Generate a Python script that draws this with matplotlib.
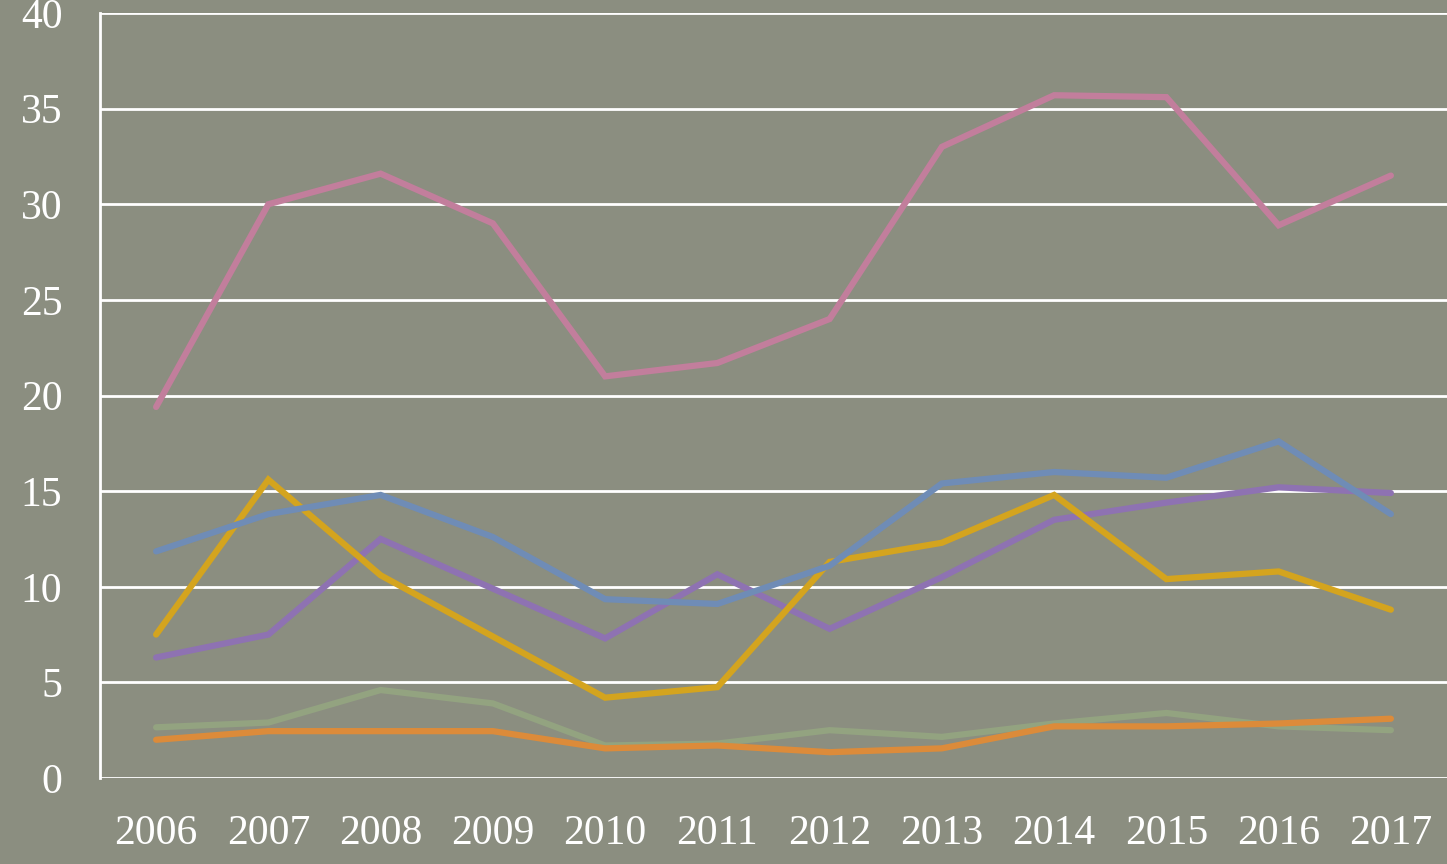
import numpy as np
import matplotlib
matplotlib.use("Agg")
import matplotlib.pyplot as plt

years = [2006, 2007, 2008, 2009, 2010, 2011, 2012, 2013, 2014, 2015, 2016, 2017]

pink = [19.4, 30.0, 31.6, 29.0, 21.0, 21.7, 24.0, 33.0, 35.7, 35.6, 28.9, 31.5]
blue = [11.85, 13.8, 14.8, 12.6, 9.35, 9.1, 11.1, 15.4, 16.0, 15.7, 17.6, 13.8]
yellow = [7.5, 15.6, 10.6, 7.4, 4.2, 4.75, 11.3, 12.3, 14.8, 10.4, 10.8, 8.8]
purple = [6.3, 7.5, 12.5, 9.9, 7.3, 10.65, 7.8, 10.5, 13.5, 14.4, 15.2, 14.9]
green = [2.65, 2.9, 4.6, 3.9, 1.7, 1.8, 2.5, 2.15, 2.85, 3.4, 2.7, 2.5]
orange = [2.0, 2.45, 2.45, 2.45, 1.55, 1.7, 1.35, 1.55, 2.7, 2.7, 2.85, 3.1]

series = [
    (green, "#93a380"),
    (orange, "#dc8b3a"),
    (purple, "#8e72b2"),
    (yellow, "#d4a41e"),
    (blue, "#6f8cb6"),
    (pink, "#c27e9c"),
]

bg = "#8b8e80"
plt.rcParams['font.family'] = ['Liberation Serif', 'DejaVu Serif']

fig = plt.figure(figsize=(14.47, 8.64), dpi=100, facecolor=bg)
ax = fig.add_axes([100 / 1447, 1 - 778 / 864, 1 - 100 / 1447, (778 - 13) / 864])
ax.set_facecolor(bg)

for vals, col in series:
    ax.plot(years, vals, color=col, lw=4.5, solid_capstyle='round', solid_joinstyle='miter')

ax.set_xlim(2005.5, 2017.5)
ax.set_ylim(0, 40)
ax.set_yticks(range(0, 41, 5))
ax.set_xticks(years)
ax.grid(axis='y', color='white', lw=2)
ax.set_axisbelow(True)
for s in ['top', 'right', 'bottom']:
    ax.spines[s].set_visible(False)
ax.spines['left'].set_color('white')
ax.spines['left'].set_linewidth(2)
ax.tick_params(axis='both', length=0, colors='white', labelsize=30)
ax.tick_params(axis='y', pad=27)
ax.tick_params(axis='x', pad=26)

fig.savefig("out.png", dpi=100, facecolor=bg)
